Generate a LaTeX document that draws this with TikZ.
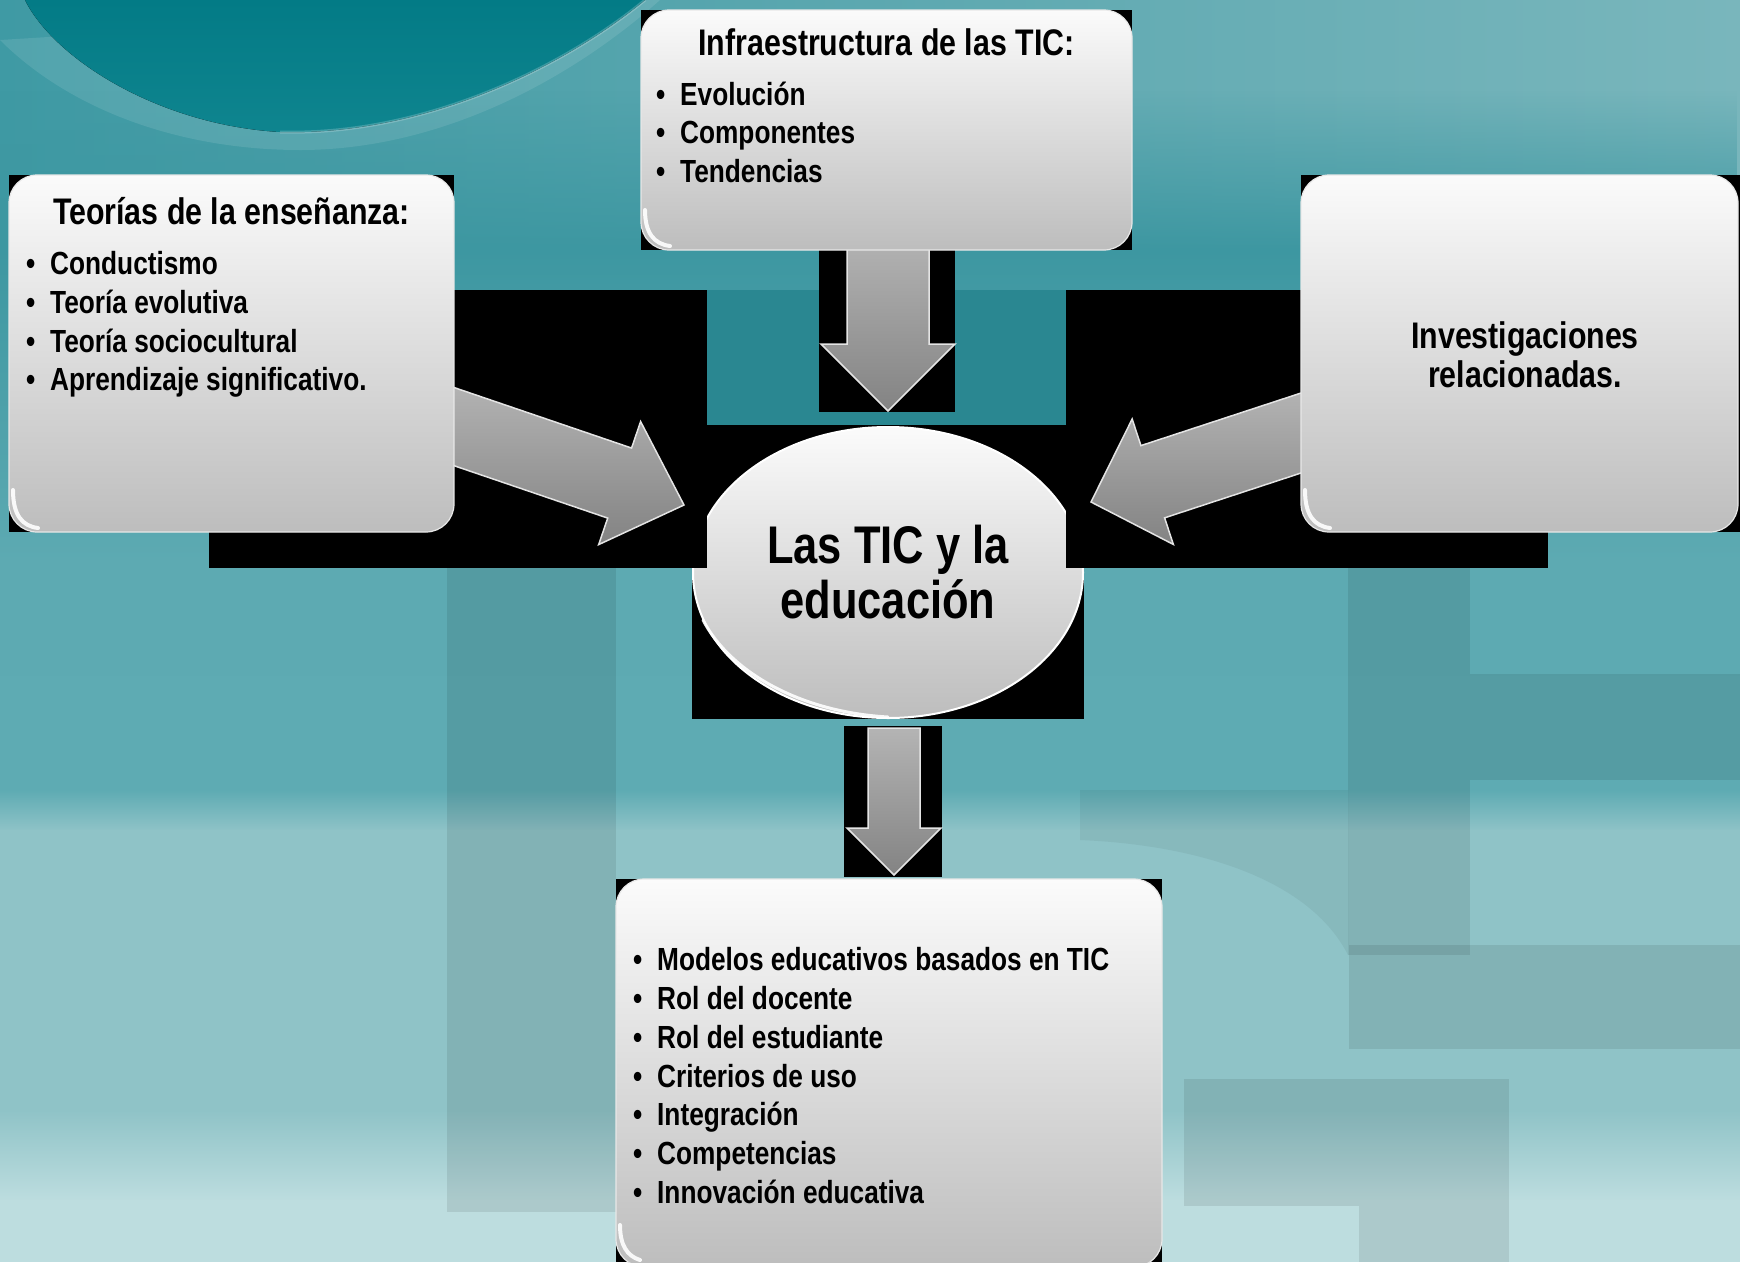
\documentclass[tikz,border=0pt]{standalone}
\usepackage{fontspec}
\newfontfamily\nb{Liberation Sans}[FakeStretch=0.82]
\usetikzlibrary{calc,shapes.geometric,fadings}
\definecolor{bgL}{HTML}{3F9AA4}
\definecolor{bgA}{HTML}{79B6BC}
\definecolor{bgB}{HTML}{3D97A1}
\definecolor{bgC}{HTML}{5DAAB2}
\definecolor{bgD}{HTML}{5EABB3}
\definecolor{bgE}{HTML}{8FC3C7}
\definecolor{bgF}{HTML}{BDDDDF}
\definecolor{swirlA}{HTML}{037B86}
\definecolor{swirlB}{HTML}{0F858F}
\definecolor{midrect}{HTML}{2A8791}
\definecolor{boxTop}{HTML}{FBFBFB}
\definecolor{boxBot}{HTML}{BDBDBD}
\definecolor{boxEdge}{HTML}{E8E8E8}
\definecolor{arrTop}{HTML}{B4B4B4}
\definecolor{arrBot}{HTML}{838383}
\definecolor{arrEdge}{HTML}{E4E4E4}
\newcommand{\itm}[1]{\makebox[24pt][l]{•}#1}
\newcommand{\blockarr}[5]{%
  \coordinate (hb) at ($(#2)!#4!(#1)$);
  \filldraw[barrow] ($(#1)!#3!90:(#2)$) -- ($(hb)!#3!90:(#2)$) -- ($(hb)!#5!90:(#2)$) -- (#2)
    -- ($(hb)!#5!-90:(#2)$) -- ($(hb)!#3!-90:(#2)$) -- ($(#1)!#3!-90:(#2)$) -- cycle;}
\tikzset{
  box/.style={rectangle, rounded corners=28pt, inner sep=0pt, outer sep=0pt,
    top color=boxTop, bottom color=boxBot, draw=boxEdge, line width=1.2pt},
  backdrop/.style={fill=black},
  barrow/.style={top color=arrTop, bottom color=arrBot, draw=arrEdge, line width=1.5pt, line join=miter},
  itemtxt/.style={inner sep=0pt, anchor=base west, font=\nb\bfseries\fontsize{32pt}{38pt}\selectfont},
  headtxt/.style={inner sep=0pt, anchor=base, font=\nb\bfseries\fontsize{37pt}{40pt}\selectfont},
  bigtxt/.style={inner sep=0pt, anchor=base, font=\nb\bfseries\fontsize{53pt}{55pt}\selectfont},
  glow/.style={white, line width=4pt, line cap=round, opacity=0.9},
  wmark/.style={fill=black, opacity=0.085},
}
\begin{document}
\begin{tikzpicture}[x=1pt,y=-1pt]
\useasboundingbox (0,0) rectangle (1740,1262);
% ---------- background ----------
\fill[left color=bgL, right color=bgA] (0,0) rectangle (1740,251);
\fill[bgB, path fading=north] (0,90) rectangle (1740,251);
\fill[top color=bgB, bottom color=bgC] (0,250) rectangle (1740,561);
\fill[top color=bgC, bottom color=bgD] (0,560) rectangle (1740,791);
\fill[top color=bgD, bottom color=bgE] (0,790) rectangle (1740,831);
\fill[bgE] (0,830) rectangle (1740,1111);
\fill[top color=bgE, bottom color=bgF] (0,1110) rectangle (1740,1201);
\fill[bgF] (0,1200) rectangle (1740,1262);
% swirl top-left
\fill[white, opacity=0.10] (0,40) .. controls (70,110) and (180,150) .. (300,150)
  .. controls (440,150) and (570,80) .. (660,0) -- (645,0) -- cycle;
\fill[top color=swirlA, bottom color=swirlB] (25,0) .. controls (55,60) and (160,125) .. (280,132)
  .. controls (420,136) and (560,70) .. (645,0) -- cycle;
\draw[white, opacity=0.2, line width=3pt] (280,132) .. controls (420,136) and (560,70) .. (645,0);
% watermark shapes
\fill[wmark] (447,568) rectangle (616,1212);
\fill[wmark] (1348,568) rectangle (1470,955);
\fill[wmark] (1470,674) rectangle (1740,780);
\fill[wmark] (1349,945) rectangle (1740,1049);
\fill[wmark] (1184,1079) rectangle (1509,1206);
\fill[wmark] (1359,1206) rectangle (1509,1262);
\fill[black, opacity=0.05] (1080,790) -- (1348,790) -- (1348,955) .. controls (1310,880) and (1200,845) .. (1080,840) -- cycle;
\fill[midrect] (707,290) rectangle (1067,425);
% ---------- central ellipse ----------
\fill[backdrop] (692,425) rectangle (1084,719);
\node[ellipse, minimum width=390pt, minimum height=291pt, inner sep=0pt, top color=boxTop,
  bottom color=boxBot, draw=white, line width=2pt] (core) at (888,572.5) {};
\draw[glow, line width=3pt] (703,620) .. controls (730,672) and (800,712) .. (888,717);
\node[bigtxt] (core1) at (888,563) {Las TIC y la};
\node[bigtxt] (core2) at (888,618) {educación};
% ---------- arrow backdrops ----------
\fill[backdrop] (209,290) rectangle (707,568);
\fill[backdrop] (1066,290) rectangle (1548,568);
\fill[backdrop] (819,250) rectangle (955,412);
\fill[backdrop] (844,726) rectangle (942,877);
% ---------- arrows ----------
\coordinate (Ltail) at (420,415);
\coordinate (Ltip) at (684,505);
\coordinate (Rtail) at (1330,423.5);
\coordinate (Rtip) at (1091,502);
\coordinate (Ttail) at (888,235);
\coordinate (Ttip) at (888,411);
\coordinate (Btail) at (894,728);
\coordinate (Btip) at (894,875);
\blockarr{Ltail}{Ltip}{37pt}{68pt}{65pt}
\blockarr{Rtail}{Rtip}{38pt}{65pt}{66pt}
\blockarr{Ttail}{Ttip}{41pt}{67pt}{67pt}
\blockarr{Btail}{Btip}{26pt}{47pt}{47pt}
% ---------- boxes ----------
\fill[backdrop] (9,175) rectangle (454,532);
\node[box, minimum width=445pt, minimum height=357pt] (teo) at (231.5,353.5) {};
\draw[glow] (13,490) .. controls (13,515) and (22,526) .. (38,528);
\fill[backdrop] (641,10) rectangle (1132,250);
\node[box, minimum width=491pt, minimum height=240pt] (inf) at (886.5,130) {};
\draw[glow] (645,210) .. controls (645,233) and (654,244) .. (670,246);
\fill[backdrop] (1301,175) rectangle (1740,532);
\node[box, minimum width=437pt, minimum height=357pt] (inv) at (1519.5,353.5) {};
\draw[glow] (1305,490) .. controls (1305,515) and (1314,526) .. (1330,528);
\fill[backdrop] (616,879) rectangle (1162,1262);
\node[box, minimum width=546pt, minimum height=388pt] (mod) at (889,1073) {};
\draw[glow] (620,1225) .. controls (620,1245) and (627,1256) .. (640,1260);
% ---------- texts ----------
\node[headtxt] (teoH) at (231.5,224) {Teorías de la enseñanza:};
\node[itemtxt] (teo1) at (26,274) {\itm{Conductismo}};
\node[itemtxt] (teo2) at (26,313) {\itm{Teoría evolutiva}};
\node[itemtxt] (teo3) at (26,352) {\itm{Teoría sociocultural}};
\node[itemtxt] (teo4) at (26,390) {\itm{Aprendizaje significativo.}};
\node[headtxt] (infH) at (886.5,55) {Infraestructura de las TIC:};
\node[itemtxt] (inf1) at (656,105) {\itm{Evolución}};
\node[itemtxt] (inf2) at (656,143) {\itm{Componentes}};
\node[itemtxt] (inf3) at (656,182) {\itm{Tendencias}};
\node[headtxt] (inv1) at (1525,348) {Investigaciones};
\node[headtxt] (inv2) at (1525,387) {relacionadas.};
\node[itemtxt] (mod1) at (633,970) {\itm{Modelos educativos basados en TIC}};
\node[itemtxt] (mod2) at (633,1009) {\itm{Rol del docente}};
\node[itemtxt] (mod3) at (633,1048) {\itm{Rol del estudiante}};
\node[itemtxt] (mod4) at (633,1087) {\itm{Criterios de uso}};
\node[itemtxt] (mod5) at (633,1125) {\itm{Integración}};
\node[itemtxt] (mod6) at (633,1164) {\itm{Competencias}};
\node[itemtxt] (mod7) at (633,1203) {\itm{Innovación educativa}};
\end{tikzpicture}
\end{document}
